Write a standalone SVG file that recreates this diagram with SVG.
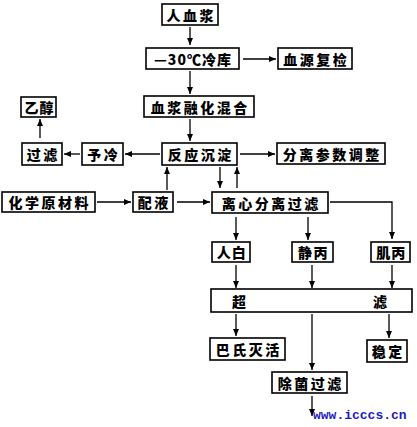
<svg xmlns="http://www.w3.org/2000/svg" width="417" height="427" viewBox="0 0 417 427">
<defs>
<marker id="ah" markerWidth="8" markerHeight="8" refX="7" refY="4" orient="auto" markerUnits="userSpaceOnUse">
<path d="M0,1 L7,4 L0,7 Z" fill="#000"/>
</marker>
<style>
rect{fill:#fff;stroke:#000;stroke-width:1.6}
text{font-family:"Noto Sans CJK SC","Liberation Sans",sans-serif;font-weight:900;font-size:14px;fill:#000;text-anchor:middle;dominant-baseline:central;letter-spacing:2.5px}
.c line,.c path{stroke:#000;stroke-width:1.3;fill:none}
.a{marker-end:url(#ah)}
.url{font-family:"Liberation Mono",monospace;font-weight:700;font-size:13px;fill:#1c1cc0;text-anchor:start;dominant-baseline:auto;letter-spacing:0}
</style>
</defs>
<rect x="0" y="0" width="417" height="427" style="fill:#fff;stroke:none"/>
<g class="c">
<line class="a" x1="190" y1="27" x2="190" y2="45"/>
<line class="a" x1="243" y1="59" x2="276" y2="59"/>
<line class="a" x1="190" y1="71" x2="190" y2="94"/>
<line class="a" x1="190" y1="119" x2="190" y2="141"/>
<line class="a" x1="40" y1="138" x2="40" y2="119"/>
<line class="a" x1="160" y1="154" x2="125" y2="154"/>
<line class="a" x1="80" y1="154" x2="64" y2="154"/>
<line class="a" x1="240" y1="154" x2="275" y2="154"/>
<line class="a" x1="220" y1="167" x2="220" y2="188"/>
<line class="a" x1="237" y1="188" x2="237" y2="167"/>
<line class="a" x1="167" y1="190" x2="167" y2="167"/>
<line class="a" x1="97" y1="202" x2="131" y2="202"/>
<line class="a" x1="177" y1="202" x2="210" y2="202"/>
<path class="a" d="M330,202 H392 V239"/>
<line class="a" x1="236" y1="217" x2="236" y2="240"/>
<line class="a" x1="308" y1="217" x2="308" y2="240"/>
<line class="a" x1="236" y1="265" x2="236" y2="288"/>
<line class="a" x1="312" y1="265" x2="312" y2="288"/>
<line class="a" x1="392" y1="265" x2="392" y2="288"/>
<line class="a" x1="236" y1="314" x2="236" y2="336"/>
<line class="a" x1="312" y1="314" x2="312" y2="370"/>
<line class="a" x1="389" y1="314" x2="389" y2="338"/>
<line class="a" x1="312" y1="396" x2="312" y2="416"/>
</g>
<g id="n1"><rect x="162" y="4" width="56" height="21"/><text x="191.2" y="14.5">人血浆</text></g>
<g id="n2"><rect x="146" y="48" width="93" height="21"/><text x="193" y="58.5" style="letter-spacing:1px">—30℃冷库</text></g>
<g id="n3"><rect x="278" y="48" width="74" height="21"/><text x="316.2" y="58.5">血源复检</text></g>
<g id="n4"><rect x="144" y="96" width="110" height="21"/><text x="200.2" y="106.5">血浆融化混合</text></g>
<g id="n5"><rect x="21" y="97" width="35" height="20"/><text x="39.5" y="107" style="letter-spacing:1px">乙醇</text></g>
<g id="n6"><rect x="22" y="143" width="40" height="22"/><text x="43.2" y="154">过滤</text></g>
<g id="n7"><rect x="82" y="143" width="41" height="22"/><text x="103.7" y="154">予冷</text></g>
<g id="n8"><rect x="162" y="143" width="75" height="22"/><text x="200.7" y="154">反应沉淀</text></g>
<g id="n9"><rect x="277" y="143" width="108" height="21"/><text x="332.2" y="153.5">分离参数调整</text></g>
<g id="n10"><rect x="2" y="192" width="93" height="20"/><text x="49.7" y="202">化学原材料</text></g>
<g id="n11"><rect x="133" y="192" width="40" height="20"/><text x="154.2" y="202">配液</text></g>
<g id="n12"><rect x="212" y="192" width="116" height="21"/><text x="271.2" y="202.5">离心分离过滤</text></g>
<g id="n13"><rect x="212" y="242" width="38" height="20"/><text x="231.7" y="252" style="letter-spacing:1px">人白</text></g>
<g id="n14"><rect x="292" y="242" width="41" height="20"/><text x="313.5" y="252" style="letter-spacing:1.5px">静丙</text></g>
<g id="n15"><rect x="371" y="242" width="39" height="20"/><text x="391.2" y="252" style="letter-spacing:1px">肌丙</text></g>
<g id="n16"><rect x="211" y="289" width="201" height="23"/><text x="240.2" y="300.5">超</text><text x="381.2" y="300.5">滤</text></g>
<g id="n17"><rect x="210" y="338" width="75" height="22"/><text x="248.7" y="349">巴氏灭活</text></g>
<g id="n18"><rect x="367" y="340" width="40" height="22"/><text x="388.2" y="351">稳定</text></g>
<g id="n19"><rect x="272" y="372" width="75" height="21"/><text x="310.7" y="382.5">除菌过滤</text></g>
<text class="url" x="313" y="419">www.icccs.cn</text>
</svg>
